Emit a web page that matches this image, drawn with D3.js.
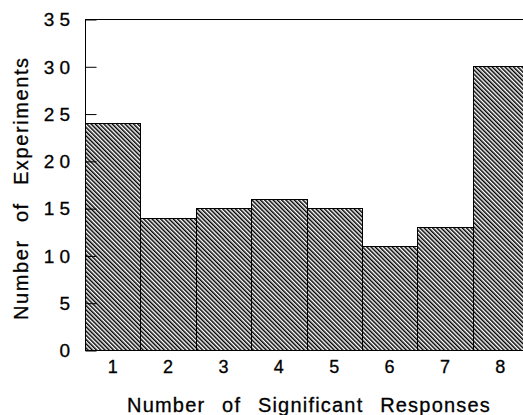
<!DOCTYPE html>
<html>
<head>
<meta charset="utf-8">
<script src="https://cdn.jsdelivr.net/npm/d3@7"></script>
<style>
  html, body { margin: 0; padding: 0; background: #fff; }
  svg text { font-family: "Liberation Sans", Arial, Helvetica, sans-serif; fill: #000; stroke: #000; stroke-width: 0.3px; }
</style>
</head>
<body>
<div id="chart"></div>
<script>
// data
var responses = [1, 2, 3, 4, 5, 6, 7, 8];
var experiments = [24, 14, 15, 16, 15, 11, 13, 30];
var yTicks = [0, 5, 10, 15, 20, 25, 30, 35];

drawHist("chart");

function drawHist(divname) {
    var width = 523, height = 415;
    var left = 85, right = 528, top = 19, bottom = 350;

    var svg = d3.select("#" + divname)
        .append("svg")
        .attr("width", width)
        .attr("height", height);

    // diagonal hatch used to fill the bars
    var defs = svg.append("defs");
    defs.append("pattern")
        .attr("id", "hatch")
        .attr("patternUnits", "userSpaceOnUse")
        .attr("width", 3)
        .attr("height", 3)
        .attr("patternTransform", "rotate(-45)")
        .append("rect")
        .attr("x", 0).attr("y", 0)
        .attr("width", 1.5).attr("height", 3)
        .attr("fill", "#000");

    var x = d3.scaleBand()
        .domain(responses)
        .range([left, right])
        .padding(0);
    var y = d3.scaleLinear()
        .domain([0, 35])
        .range([bottom, top]);

    // bars
    svg.append("g")
        .selectAll("rect")
        .data(experiments)
        .enter()
        .append("rect")
        .attr("x", function (d, i) { return Math.round(x(responses[i])) + 0.5; })
        .attr("y", function (d) { return Math.round(y(d)) + 0.5; })
        .attr("width", function (d, i) {
            return Math.round(x(responses[i]) + x.bandwidth()) - Math.round(x(responses[i]));
        })
        .attr("height", function (d) { return Math.round(y(0)) - Math.round(y(d)); })
        .attr("fill", "url(#hatch)")
        .attr("stroke", "#000")
        .attr("stroke-width", 1);

    // frame: left, bottom, top
    var frame = svg.append("g").attr("stroke", "#000").attr("stroke-width", 1).attr("fill", "none");
    frame.append("line")
        .attr("x1", left + 0.5).attr("x2", left + 0.5)
        .attr("y1", Math.round(y(35)) + 0.5).attr("y2", Math.round(y(0)) + 0.5);
    frame.append("line")
        .attr("x1", left).attr("x2", right)
        .attr("y1", Math.round(y(0)) + 0.5).attr("y2", Math.round(y(0)) + 0.5);
    frame.append("line")
        .attr("x1", left).attr("x2", right)
        .attr("y1", Math.round(y(35)) + 0.5).attr("y2", Math.round(y(35)) + 0.5);

    // y axis: ticks point inward
    var yAxis = d3.axisRight(y)
        .tickValues(yTicks)
        .tickSize(11)
        .tickFormat("");
    svg.append("g")
        .attr("transform", "translate(" + (left + 0.5) + ",0.5)")
        .call(yAxis)
        .call(function (g) { g.select(".domain").remove(); })
        .selectAll("line").attr("stroke", "#000");

    svg.append("g")
        .selectAll("text")
        .data(yTicks)
        .enter()
        .append("text")
        .attr("x", 75)
        .attr("y", function (d) { return y(d); })
        .attr("dy", "0.38em")
        .style("text-anchor", "end")
        .style("font-size", "19px")
        .style("letter-spacing", "5px")
        .text(function (d) { return d; });

    // x tick labels
    svg.append("g")
        .selectAll("text")
        .data(responses)
        .enter()
        .append("text")
        .attr("x", function (d) { return x(d) + x.bandwidth() / 2; })
        .attr("y", 373)
        .style("text-anchor", "middle")
        .style("font-size", "18px")
        .text(function (d) { return d; });

    // axis titles
    svg.append("text")
        .attr("x", 127)
        .attr("y", 412)
        .style("font-size", "20px")
        .style("letter-spacing", "1.2px")
        .style("word-spacing", "10px")
        .text("Number of Significant Responses");

    svg.append("text")
        .attr("transform", "translate(28,320) rotate(-90)")
        .attr("x", 0)
        .attr("y", 0)
        .style("font-size", "20px")
        .style("letter-spacing", "1.6px")
        .style("word-spacing", "10px")
        .text("Number of Experiments");
}
</script>
</body>
</html>
